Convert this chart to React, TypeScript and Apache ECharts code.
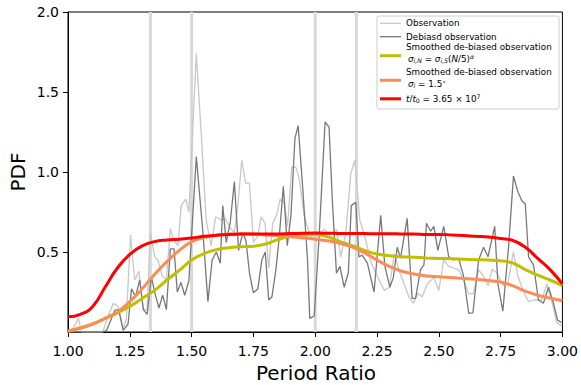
import React, { useEffect, useRef } from "react";
import * as echarts from "echarts";

// ---- data ----
const resonances = [4 / 3, 1.5, 2.0, 13 / 6];

const obsX = [1.0, 1.02, 1.042, 1.055, 1.14, 1.163, 1.183, 1.203, 1.223, 1.236, 1.253, 1.27, 1.287, 1.304, 1.32, 1.333, 1.351, 1.364, 1.381, 1.398, 1.414, 1.427, 1.445, 1.458, 1.476, 1.489, 1.519, 1.539, 1.559, 1.579, 1.597, 1.62, 1.635, 1.653, 1.673, 1.687, 1.703, 1.718, 1.734, 1.75, 1.768, 1.781, 1.797, 1.812, 1.828, 1.844, 1.858, 1.875, 1.888, 1.905, 1.922, 1.935, 1.956, 1.976, 1.996, 2.016, 2.036, 2.05, 2.07, 2.086, 2.103, 2.124, 2.144, 2.161, 2.18, 2.2, 2.227, 2.254, 2.28, 2.3, 2.32, 2.34, 2.36, 2.379, 2.397, 2.415, 2.433, 2.453, 2.48, 2.5, 2.52, 2.54, 2.56, 2.58, 2.6, 2.62, 2.64, 2.661, 2.68, 2.7, 2.715, 2.735, 2.76, 2.78, 2.802, 2.82, 2.84, 2.863, 2.883, 2.9, 2.917, 2.937, 2.957, 2.977, 2.995];
const obsY = [0.0, 0.02, 0.085, 0.0, 0.0, 0.1, 0.18, 0.16, 0.02, 0.08, 0.606, 0.325, 0.38, 0.14, 0.14, 0.62, 0.47, 0.45, 0.35, 0.33, 0.648, 0.575, 0.54, 0.79, 0.83, 0.75, 1.74, 1.24, 0.7, 0.54, 0.72, 0.7, 0.71, 0.66, 0.62, 0.79, 1.075, 0.93, 0.93, 0.56, 0.6, 0.72, 0.68, 0.4, 0.68, 0.73, 0.83, 0.81, 0.66, 1.03, 1.03, 0.96, 0.72, 0.62, 0.575, 0.62, 0.64, 0.62, 0.62, 0.64, 0.47, 0.62, 0.99, 1.075, 0.7, 0.6, 0.43, 0.34, 0.26, 0.28, 0.49, 0.38, 0.3, 0.22, 0.18, 0.24, 0.22, 0.3, 0.34, 0.26, 0.45, 0.41, 0.4, 0.39, 0.33, 0.24, 0.24, 0.39, 0.35, 0.29, 0.39, 0.37, 0.29, 0.31, 0.5, 0.35, 0.26, 0.19, 0.2, 0.2, 0.2, 0.3, 0.19, 0.06, 0.04];

const debX = [1.0, 1.14, 1.156, 1.19, 1.205, 1.223, 1.243, 1.257, 1.273, 1.29, 1.305, 1.32, 1.337, 1.352, 1.368, 1.383, 1.398, 1.414, 1.429, 1.442, 1.457, 1.472, 1.489, 1.519, 1.546, 1.566, 1.583, 1.6, 1.616, 1.626, 1.64, 1.656, 1.673, 1.69, 1.707, 1.72, 1.734, 1.75, 1.768, 1.784, 1.798, 1.812, 1.825, 1.841, 1.855, 1.871, 1.887, 1.902, 1.918, 1.931, 1.949, 1.969, 1.978, 1.996, 2.016, 2.04, 2.056, 2.07, 2.086, 2.1, 2.117, 2.134, 2.146, 2.164, 2.177, 2.19, 2.211, 2.238, 2.265, 2.282, 2.302, 2.316, 2.332, 2.345, 2.372, 2.392, 2.406, 2.426, 2.44, 2.45, 2.467, 2.48, 2.496, 2.52, 2.54, 2.56, 2.58, 2.6, 2.621, 2.638, 2.661, 2.681, 2.699, 2.726, 2.739, 2.759, 2.782, 2.802, 2.819, 2.836, 2.85, 2.863, 2.883, 2.903, 2.923, 2.944, 2.964, 2.98, 2.995];
const debY = [0.0, 0.0, 0.01, 0.137, 0.14, 0.01, 0.05, 0.27, 0.22, 0.325, 0.14, 0.11, 0.346, 0.24, 0.15, 0.23, 0.14, 0.52, 0.52, 0.25, 0.31, 0.23, 0.32, 1.096, 0.617, 0.19, 0.45, 0.5, 0.43, 0.79, 0.56, 0.68, 0.94, 0.51, 0.62, 0.57, 0.37, 0.245, 0.27, 0.45, 0.5, 0.2, 0.22, 0.39, 0.6, 0.91, 0.54, 0.73, 1.21, 1.29, 0.91, 0.45, 0.085, 0.1, 0.6, 1.314, 1.28, 0.8, 0.367, 0.41, 0.28, 0.37, 0.79, 0.81, 0.47, 0.48, 0.43, 0.25, 0.73, 0.41, 0.28, 0.34, 0.53, 0.46, 0.71, 0.21, 0.21, 0.39, 0.42, 0.68, 0.63, 0.66, 0.51, 0.66, 0.47, 0.45, 0.46, 0.35, 0.117, 0.12, 0.45, 0.53, 0.47, 0.66, 0.3, 0.13, 0.53, 0.975, 0.88, 0.82, 0.8, 0.47, 0.42, 0.2, 0.18, 0.28, 0.18, 0.075, 0.06];

const smoothX = [1.0, 1.05, 1.1, 1.15, 1.2, 1.25, 1.3, 1.35, 1.4, 1.45, 1.5, 1.55, 1.6, 1.65, 1.7, 1.75, 1.8, 1.85, 1.9, 1.95, 2.0, 2.05, 2.1, 2.15, 2.2, 2.25, 2.3, 2.35, 2.4, 2.45, 2.5, 2.55, 2.6, 2.65, 2.7, 2.75, 2.8, 2.85, 2.9, 2.95, 3.0];
const yellowY = [0.005, 0.025, 0.05, 0.085, 0.12, 0.16, 0.21, 0.26, 0.325, 0.385, 0.45, 0.49, 0.515, 0.527, 0.533, 0.536, 0.55, 0.578, 0.598, 0.607, 0.61, 0.595, 0.565, 0.54, 0.51, 0.487, 0.476, 0.47, 0.467, 0.463, 0.46, 0.458, 0.455, 0.452, 0.45, 0.445, 0.43, 0.39, 0.355, 0.325, 0.29];
const orangeY = [0.005, 0.025, 0.05, 0.085, 0.125, 0.19, 0.27, 0.36, 0.44, 0.51, 0.565, 0.59, 0.604, 0.612, 0.614, 0.612, 0.607, 0.602, 0.595, 0.588, 0.58, 0.57, 0.555, 0.53, 0.495, 0.45, 0.41, 0.38, 0.362, 0.35, 0.345, 0.34, 0.335, 0.33, 0.322, 0.312, 0.288, 0.255, 0.23, 0.212, 0.195];
const redY = [0.095, 0.11, 0.16, 0.28, 0.4, 0.485, 0.538, 0.565, 0.575, 0.58, 0.588, 0.598, 0.605, 0.61, 0.612, 0.613, 0.612, 0.613, 0.615, 0.617, 0.618, 0.617, 0.616, 0.615, 0.615, 0.614, 0.614, 0.613, 0.613, 0.61, 0.61, 0.607, 0.603, 0.598, 0.594, 0.585, 0.572, 0.53, 0.46, 0.39, 0.3];

const yTickValues = [0.5, 1.0, 1.5, 2.0];

const FONT = "DejaVu Sans";
const C_OBS = "#c8c8c8";
const C_DEB = "#787878";
const C_YEL = "#bfbf00";
const C_ORA = "#fc8d59";
const C_RED = "#ff0000";
const C_RES = "#d9d9d9";

const pairs = (xs: number[], ys: number[]) => xs.map((x, i) => [x, ys[i]]);

const mathRich = {
  n: { fontFamily: FONT, fontSize: 8.8, lineHeight: 10 },
  it: { fontFamily: FONT, fontSize: 8.8, fontStyle: "italic", lineHeight: 10 },
  sub: { fontFamily: FONT, fontSize: 6.2, fontStyle: "italic", lineHeight: 4, verticalAlign: "bottom" },
  subr: { fontFamily: FONT, fontSize: 6.2, lineHeight: 4, verticalAlign: "bottom" },
  sup: { fontFamily: FONT, fontSize: 6.2, fontStyle: "italic", lineHeight: 4, verticalAlign: "top" },
  supr: { fontFamily: FONT, fontSize: 6.2, lineHeight: 4, verticalAlign: "top" },
};

function legendText(text: string, x: number, y: number, rich = false) {
  return {
    type: "text",
    z: 101,
    style: {
      text,
      x,
      y,
      fill: "#000",
      fontFamily: FONT,
      fontSize: 8.8,
      verticalAlign: "middle",
      align: "left",
      ...(rich ? { rich: mathRich } : {}),
    },
  };
}
function legendLine(color: string, width: number, y: number) {
  return {
    type: "line",
    z: 101,
    shape: { x1: 380, y1: y, x2: 401, y2: y },
    style: { stroke: color, lineWidth: width },
  };
}

export default function App() {
  const ref = useRef<HTMLDivElement>(null);
  useEffect(() => {
    document.body.style.margin = "0";
    const chart = echarts.init(ref.current!, null, { renderer: "svg" });
    const resSeries = resonances.map((r) => ({
      type: "line",
      data: [
        [r, 0],
        [r, 2],
      ],
      showSymbol: false,
      silent: true,
      z: 1,
      lineStyle: { color: C_RES, width: 3 },
    }));
    chart.setOption({
      animation: false,
      textStyle: { fontFamily: FONT },
      grid: {
        left: 68,
        right: 17,
        top: 12,
        bottom: 53,
        show: true,
        borderColor: "#000",
        borderWidth: 1,
        backgroundColor: "transparent",
      },
      xAxis: {
        type: "value",
        min: 1,
        max: 3,
        interval: 0.25,
        splitLine: { show: false },
        axisLine: { lineStyle: { color: "#000", width: 1 } },
        axisTick: { length: 5, lineStyle: { color: "#000" } },
        axisLabel: {
          color: "#000",
          fontSize: 14,
          fontFamily: FONT,
          margin: 12,
          formatter: (v: number) => v.toFixed(2),
        },
      },
      yAxis: {
        type: "value",
        min: 0,
        max: 2,
        interval: 0.5,
        splitLine: { show: false },
        axisLine: { show: true, lineStyle: { color: "#000", width: 1 } },
        axisTick: { show: true, length: 5, lineStyle: { color: "#000" }, customValues: yTickValues },
        axisLabel: {
          color: "#000",
          fontSize: 14,
          fontFamily: FONT,
          margin: 9,
          customValues: yTickValues,
          formatter: (v: number) => (v === 0 ? "" : v.toFixed(1)),
        },
      },
      series: [
        ...resSeries,
        {
          name: "Observation",
          type: "line",
          data: pairs(obsX, obsY),
          showSymbol: false,
          z: 2,
          lineStyle: { color: C_OBS, width: 1.3 },
        },
        {
          name: "Debiasd observation",
          type: "line",
          data: pairs(debX, debY),
          showSymbol: false,
          z: 3,
          lineStyle: { color: C_DEB, width: 1.3 },
        },
        {
          name: "yellow",
          type: "line",
          data: pairs(smoothX, yellowY),
          smooth: 0.4,
          showSymbol: false,
          z: 4,
          lineStyle: { color: C_YEL, width: 3 },
        },
        {
          name: "orange",
          type: "line",
          data: pairs(smoothX, orangeY),
          smooth: 0.4,
          showSymbol: false,
          z: 5,
          lineStyle: { color: C_ORA, width: 3 },
        },
        {
          name: "red",
          type: "line",
          data: pairs(smoothX, redY),
          smooth: 0.5,
          showSymbol: false,
          z: 6,
          lineStyle: { color: C_RED, width: 3 },
        },
      ],
      graphic: [
        {
          type: "text",
          style: {
            text: "Period Ratio",
            x: 316,
            y: 373,
            fontFamily: FONT,
            fontSize: 20,
            fill: "#000",
            align: "center",
            verticalAlign: "middle",
          },
        },
        {
          type: "text",
          x: 18,
          y: 172,
          rotation: Math.PI / 2,
          style: {
            text: "PDF",
            x: 0,
            y: 0,
            fontFamily: FONT,
            fontSize: 20,
            fill: "#000",
            align: "center",
            verticalAlign: "middle",
          },
        },
        {
          type: "rect",
          z: 100,
          shape: { x: 377, y: 16, width: 182, height: 93, r: 2 },
          style: { fill: "rgba(255,255,255,0.8)", stroke: "#cccccc", lineWidth: 1 },
        },
        legendLine(C_OBS, 1.3, 23.3),
        legendText("Observation", 406, 23.3),
        legendLine(C_DEB, 1.3, 36.7),
        legendText("Debiasd observation", 406, 36.7),
        legendLine(C_YEL, 3, 55.7),
        legendText("Smoothed de-biased observation", 406, 47.2),
        legendText("{it|σ}{sub|i,N}{n| = }{it|σ}{sub|i,5}{n|(}{it|N}{n|/5)}{sup|α}", 408, 58.5, true),
        legendLine(C_ORA, 3, 80.3),
        legendText("Smoothed de-biased observation", 406, 72.2),
        legendText("{it|σ}{sub|i}{n| = 1.5}{supr|∘}", 408, 83.5, true),
        legendLine(C_RED, 3, 98.8),
        legendText("{it|t}{n|/}{it|t}{subr|0}{n| = 3.65 × 10}{supr|7}", 406, 98.8, true),
      ],
    });
    return () => chart.dispose();
  }, []);
  return <div ref={ref} style={{ width: 581, height: 385 }} />;
}
